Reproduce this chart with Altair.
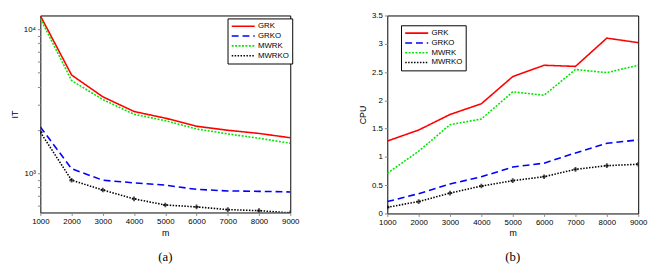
import altair as alt
import pandas as pd

m = [1000, 2000, 3000, 4000, 5000, 6000, 7000, 8000, 9000]
methods = ["GRK", "GRKO", "MWRK", "MWRKO"]

it_grk = [12400, 4810, 3395, 2685, 2415, 2122, 1990, 1892, 1766]
it_grko = [2100, 1077, 896, 859, 828, 774, 755, 750, 743]
it_mwrk = [11880, 4405, 3250, 2570, 2317, 2032, 1878, 1750, 1618]
it_mwrko = [1930, 896, 766, 665, 603, 585, 560, 551, 532]

cpu_grk = [1.28, 1.475, 1.75, 1.94, 2.42, 2.62, 2.60, 3.10, 3.02]
cpu_grko = [0.21, 0.35, 0.52, 0.65, 0.82, 0.89, 1.07, 1.24, 1.30]
cpu_mwrk = [0.71, 1.10, 1.57, 1.67, 2.15, 2.09, 2.545, 2.49, 2.62]
cpu_mwrko = [0.11, 0.21, 0.36, 0.485, 0.58, 0.65, 0.78, 0.845, 0.87]

colors = ["#ff0000", "#0000ff", "#00e600", "#000000"]
dashes = [[1, 0], [7, 4], [2, 1.5], [1.5, 1.5]]
widths = [1.6, 1.6, 1.6, 1.3]


def build(vals):
    rows = []
    for name, series in zip(methods, vals):
        for x, v in zip(m, series):
            rows.append({"m": x, "v": v, "method": name})
    return pd.DataFrame(rows)


df_it = build([it_grk, it_grko, it_mwrk, it_mwrko])
df_cpu = build([cpu_grk, cpu_grko, cpu_mwrk, cpu_mwrko])

font = "Liberation Sans"

common_axis = dict(labelFontSize=8, titleFontSize=9, titleFontWeight="normal",
                   tickSize=3, labelPadding=2, grid=False, domain=False,
                   labelFont=font, titleFont=font, labelOverlap=False, labelFlush=False)

xaxis = alt.Axis(values=m, format="d", title="m", titlePadding=3, **common_axis)


def legend(x, y):
    return alt.Legend(title=None, orient="none", legendX=x, legendY=y,
                      symbolType="stroke", symbolSize=550, symbolStrokeWidth=1.6,
                      labelFontSize=8, labelFont=font, fillColor="white",
                      strokeColor="black", padding=3, rowPadding=0, clipHeight=10,
                      symbolOffset=0, labelOffset=2)


def panel(df, yscale, yaxis, leg, caption, w, h):
    base = alt.Chart(df)
    xenc = alt.X("m:Q", scale=alt.Scale(domain=[1000, 9000], nice=False), axis=xaxis)
    yenc = alt.Y("v:Q", scale=yscale, axis=yaxis)
    color = alt.Color("method:N", scale=alt.Scale(domain=methods, range=colors), legend=leg)
    dash = alt.StrokeDash("method:N", scale=alt.Scale(domain=methods, range=dashes), legend=leg)
    sw = alt.StrokeWidth("method:N", scale=alt.Scale(domain=methods, range=widths), legend=None)
    lines = base.mark_line(clip=True).encode(
        x=xenc, y=yenc, color=color, strokeDash=dash, strokeWidth=sw,
    )
    pts = base.transform_filter(alt.datum.method == "MWRKO").mark_point(
        shape="cross", size=22, filled=True, color="black", clip=True
    ).encode(x=xenc, y=yenc)
    return alt.layer(lines, pts).properties(
        width=w, height=h,
        title=alt.TitleParams(caption, orient="bottom", font="Liberation Serif",
                              fontSize=13, fontWeight="normal", offset=14),
    )


left = panel(
    df_it,
    alt.Scale(type="log", domain=[535, 12450], nice=False),
    alt.Axis(values=[600, 700, 800, 900, 1000, 2000, 3000, 4000, 5000, 6000, 7000, 8000, 9000, 10000],
             labelExpr="datum.value == 1000 ? '10³' : (datum.value == 10000 ? '10⁴' : '')",
             title="IT", titlePadding=4, **common_axis),
    legend(191, 3), "(a)", 255, 201,
)

right = panel(
    df_cpu,
    alt.Scale(domain=[0, 3.5], nice=False),
    alt.Axis(values=[0, 0.5, 1, 1.5, 2, 2.5, 3, 3.5], format="~g", title="CPU",
             titlePadding=4, **common_axis),
    legend(14, 10), "(b)", 256, 202,
)

chart = alt.hconcat(left, right, spacing=59).resolve_scale(
    color="independent", strokeDash="independent", strokeWidth="independent"
).resolve_legend(color="independent", strokeDash="independent").properties(
    padding={"left": 2, "top": 0, "right": 0, "bottom": 0}
).configure_view(stroke="black", strokeWidth=1).configure_axis(labelOverlap=False)

chart.save("out.html", embed_options={"renderer": "svg", "actions": False})
